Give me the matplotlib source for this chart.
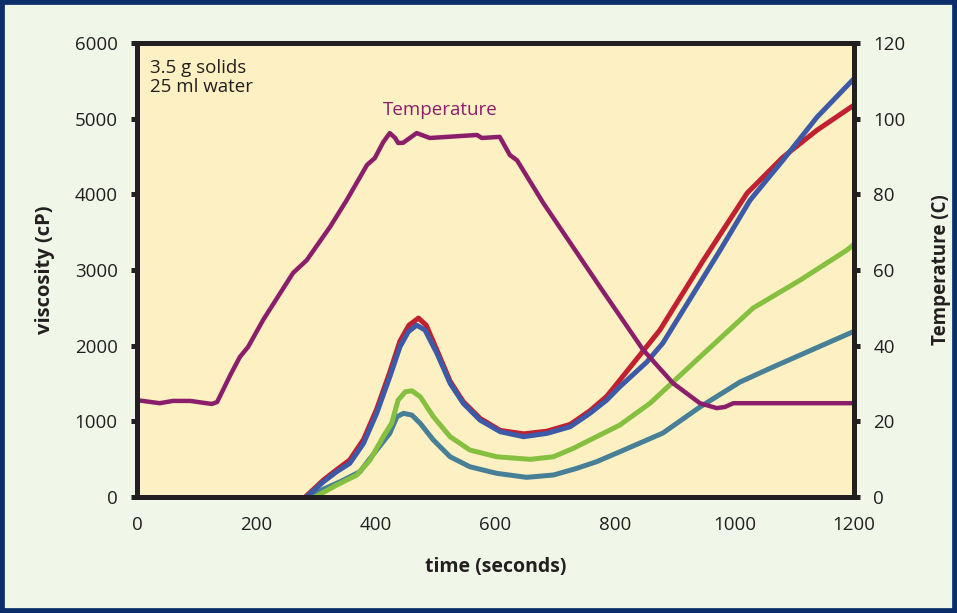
import matplotlib.pyplot as plt
from matplotlib.patches import Rectangle

# temperature trace (right axis, C)
t_temp = [0, 38, 60, 89, 125, 134, 156, 172, 186, 211, 261, 284, 323, 351, 385, 398,
          412, 423, 432, 437, 445, 468, 490, 569, 577, 607, 624, 636, 680, 775, 847,
          897, 942, 970, 984, 998, 1200]
temp = [25.6, 24.8, 25.4, 25.4, 24.6, 25.1, 32.2, 37.0, 39.7, 46.8, 59.2, 62.6, 71.4,
        78.5, 87.8, 89.6, 93.8, 96.2, 94.9, 93.6, 93.6, 96.2, 94.9, 95.7, 94.9, 95.2,
        90.4, 89.0, 77.7, 55.5, 38.9, 30.1, 24.8, 23.5, 23.8, 24.8, 24.8]

# viscosity traces (left axis, cP)
t_red = [285, 312, 334, 356, 379, 401, 423, 440, 455, 471, 484, 502, 524, 546, 574,
         608, 647, 686, 725, 758, 786, 808, 875, 948, 1021, 1081, 1138, 1200]
red = [26, 225, 360, 490, 760, 1160, 1650, 2060, 2270, 2365, 2270, 1940, 1530, 1260,
       1040, 880, 835, 870, 960, 1140, 1330, 1545, 2206, 3131, 4016, 4491, 4848, 5180]

t_blue = [287, 312, 334, 356, 379, 401, 423, 440, 454, 468, 482, 502, 524, 546, 574,
          608, 647, 686, 725, 758, 786, 808, 853, 880, 976, 1026, 1081, 1138, 1200]
blue = [26, 202, 334, 445, 709, 1106, 1589, 1985, 2184, 2272, 2206, 1898, 1502, 1238,
        1017, 863, 797, 841, 929, 1106, 1281, 1457, 1783, 2034, 3263, 3923, 4452, 5020,
        5530]

t_green = [298, 334, 368, 390, 412, 426, 437, 449, 460, 474, 496, 524, 557, 602, 658,
           697, 730, 769, 808, 859, 942, 1031, 1110, 1188, 1200]
green = [0, 158, 291, 489, 797, 973, 1281, 1391, 1404, 1325, 1061, 797, 621, 532, 498,
         532, 643, 797, 951, 1242, 1850, 2497, 2867, 3263, 3340]

t_teal = [290, 340, 373, 401, 423, 435, 446, 460, 474, 496, 524, 557, 602, 652, 697,
          736, 769, 808, 880, 942, 1009, 1064, 1200]
teal = [26, 202, 334, 621, 841, 1061, 1106, 1083, 973, 753, 532, 400, 313, 260, 291,
        379, 466, 598, 845, 1189, 1519, 1717, 2190]

dark = '#231f20'
font = 'Open Sans'
fig = plt.figure(figsize=(9.57, 6.13), dpi=100, facecolor='#f0f7e9')
fig.patches.append(Rectangle((0, 0), 1, 1, transform=fig.transFigure, fill=False,
                             edgecolor='#0b2e6b', linewidth=7))

ax = fig.add_axes([0.1432, 0.1892, 0.7492, 0.7406])
ax.set_facecolor('#fdf0c3')
ax2 = ax.twinx()

ax2.plot(t_temp, temp, color='#8b1e6a', lw=3.2, solid_joinstyle='round')
ax.plot(t_teal, teal, color='#477f96', lw=3.6, solid_joinstyle='round')
ax.plot(t_green, green, color='#86c040', lw=3.6, solid_joinstyle='round')
ax.plot(t_red, red, color='#c0202f', lw=3.6, solid_joinstyle='round')
ax.plot(t_blue, blue, color='#3d5aa8', lw=3.6, solid_joinstyle='round')

ax.set_xlim(0, 1200)
ax.set_ylim(0, 6000)
ax2.set_ylim(0, 120)
ax.set_xticks(range(0, 1201, 200))
ax.set_yticks(range(0, 6001, 1000))
ax2.set_yticks(range(0, 121, 20))

for a in (ax, ax2):
    for s in a.spines.values():
        s.set_linewidth(3.6)
        s.set_color(dark)
        s.set_capstyle('projecting')
ax.tick_params(axis='y', direction='out', length=4, width=3.6, color=dark, pad=10,
               labelsize=13.5, labelcolor=dark)
ax.tick_params(axis='x', length=0, pad=14, labelsize=13.5, labelcolor=dark)
ax2.tick_params(axis='y', direction='out', length=4, width=3.6, color=dark, pad=10,
                labelsize=13.5, labelcolor=dark)
for lab in ax.get_xticklabels() + ax.get_yticklabels() + ax2.get_yticklabels():
    lab.set_fontfamily(font)

ax.set_xlabel('time (seconds)', fontsize=14, fontweight='bold', family=font,
              color=dark, labelpad=16)
ax.set_ylabel('viscosity (cP)', fontsize=14.5, fontweight='bold', family=font,
              color=dark, labelpad=14)
ax2.set_ylabel('Temperature (C)', fontsize=13.5, fontweight='bold', family=font,
               color=dark, labelpad=18)

ax.text(0.018, 0.965, '3.5 g solids\n25 ml water', transform=ax.transAxes, va='top',
        ha='left', fontsize=13.5, family=font, color=dark, linespacing=1.05)
ax2.text(507, 102.3, 'Temperature', ha='center', va='center', fontsize=13.5,
         family=font, color='#8b1e6a')

fig.savefig('out.png', dpi=100, facecolor=fig.get_facecolor())
